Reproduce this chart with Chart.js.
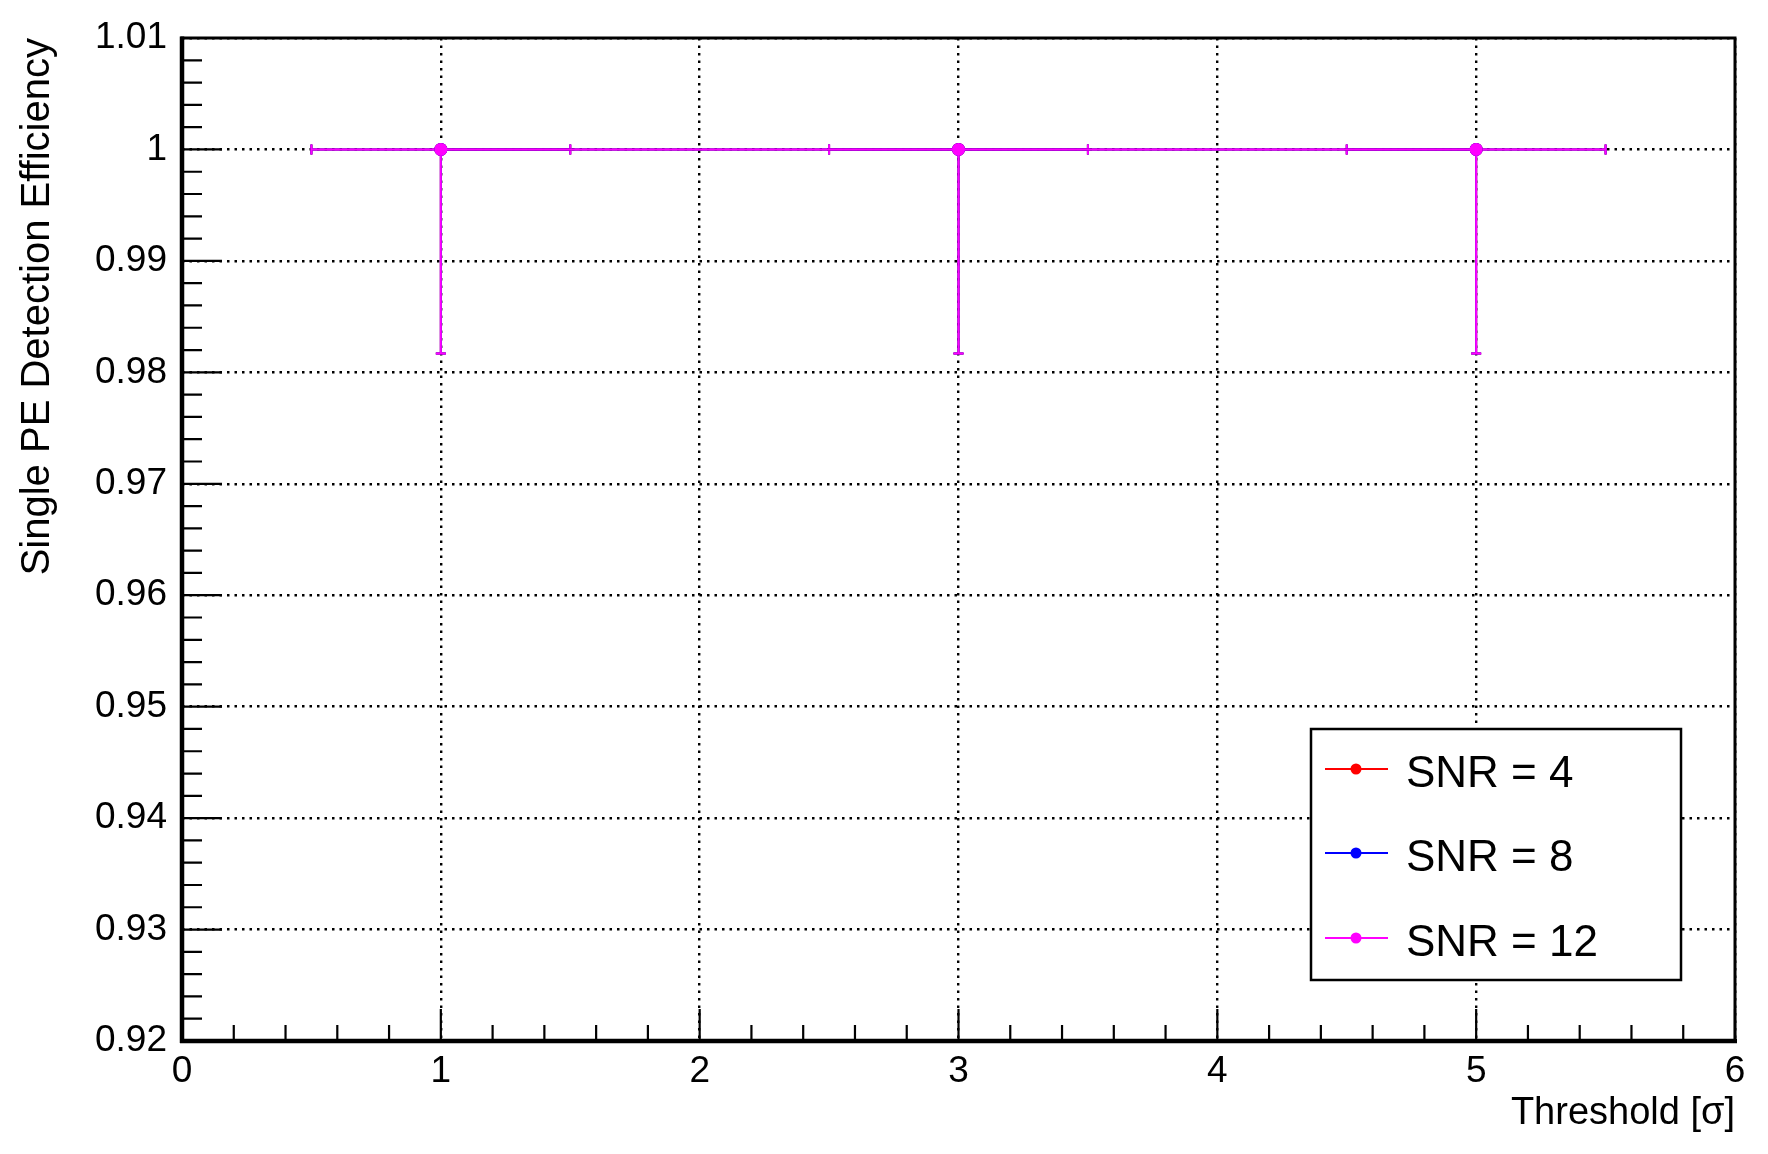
<!DOCTYPE html>
<html>
<head>
<meta charset="utf-8">
<script src="https://cdn.jsdelivr.net/npm/chart.js@4/dist/chart.umd.min.js"></script>
<style>
  html, body { margin: 0; padding: 0; background: #fff; }
  canvas { display: block; }
</style>
</head>
<body>
<canvas id="chart" width="1768" height="1154"></canvas>
<script>
// threshold in units of sigma
const thresholds = [1, 3, 5];
const effSNR4 = [1, 1, 1];
const effSNR8 = [1, 1, 1];
const effSNR12 = [1, 1, 1];
// asymmetric errors (ROOT TGraphAsymmErrors style)
const errX = [0.5, 0.5, 0.5];
const errLow = [0.0183, 0.0183, 0.0183];
const errHigh = [0, 0, 0];

const xTicks = [0, 1, 2, 3, 4, 5, 6];
const yTicks = [0.92, 0.93, 0.94, 0.95, 0.96, 0.97, 0.98, 0.99, 1.0, 1.01];

const FONT = '"Liberation Sans", Arial, Helvetica, sans-serif';

const series = [
    { label: 'SNR = 4', color: '#ff0000', values: effSNR4 },
    { label: 'SNR = 8', color: '#0000ff', values: effSNR8 },
    { label: 'SNR = 12', color: '#ff00ff', values: effSNR12 },
];

const toPoints = (vals) => thresholds.map((x, i) => ({ x, y: vals[i] }));

// error bars, drawn under the markers
const errorBars = {
    id: 'errorBars',
    beforeDatasetsDraw(chart) {
        const { ctx, scales: { x, y } } = chart;
        const cap = 5;
        ctx.save();
        ctx.lineWidth = 2;
        series.forEach((s) => {
            ctx.strokeStyle = s.color;
            s.values.forEach((v, i) => {
                const px = x.getPixelForValue(thresholds[i]);
                const py = y.getPixelForValue(v);
                const x0 = x.getPixelForValue(thresholds[i] - errX[i]);
                const x1 = x.getPixelForValue(thresholds[i] + errX[i]);
                const yLo = y.getPixelForValue(v - errLow[i]);
                const yHi = y.getPixelForValue(v + errHigh[i]);
                ctx.beginPath();
                ctx.moveTo(x0, py); ctx.lineTo(x1, py);
                ctx.moveTo(x0, py - cap); ctx.lineTo(x0, py + cap);
                ctx.moveTo(x1, py - cap); ctx.lineTo(x1, py + cap);
                ctx.moveTo(px, yHi); ctx.lineTo(px, yLo);
                ctx.moveTo(px - cap, yLo); ctx.lineTo(px + cap, yLo);
                if (errHigh[i] > 0) { ctx.moveTo(px - cap, yHi); ctx.lineTo(px + cap, yHi); }
                ctx.stroke();
            });
        });
        ctx.restore();
    },
};

// ROOT-like frame with inward ticks + legend box
const rootFrame = {
    id: 'rootFrame',
    afterDraw(chart) {
        const { ctx, chartArea: a, scales: { x, y } } = chart;
        ctx.save();
        ctx.strokeStyle = '#000';
        ctx.lineCap = 'butt';

        // y ticks (inside)
        ctx.lineWidth = 2.2;
        ctx.beginPath();
        for (let k = 0; k <= 45; k++) {
            const v = 0.92 + k * 0.002;
            const py = y.getPixelForValue(v);
            const len = k % 5 === 0 ? 40 : 20;
            ctx.moveTo(a.left, py); ctx.lineTo(a.left + len, py);
        }
        // x ticks (inside)
        for (let k = 0; k <= 30; k++) {
            const v = k * 0.2;
            const px = x.getPixelForValue(v);
            const len = k % 5 === 0 ? 32 : 16;
            ctx.moveTo(px, a.bottom); ctx.lineTo(px, a.bottom - len);
        }
        ctx.stroke();

        // frame
        ctx.lineWidth = 3;
        ctx.strokeRect(a.left, a.top, a.right - a.left, a.bottom - a.top);
        ctx.lineWidth = 4.5;
        ctx.beginPath();
        ctx.moveTo(a.left, a.top - 1.5); ctx.lineTo(a.left, a.bottom + 2);
        ctx.moveTo(a.left - 2, a.bottom); ctx.lineTo(a.right + 2, a.bottom);
        ctx.stroke();

        // legend
        const box = { l: 1311, t: 729, r: 1681, b: 980 };
        ctx.fillStyle = '#fff';
        ctx.fillRect(box.l, box.t, box.r - box.l, box.b - box.t);
        ctx.lineWidth = 2.5;
        ctx.strokeRect(box.l, box.t, box.r - box.l, box.b - box.t);
        const rows = [769, 853, 938];
        ctx.font = '44px ' + FONT;
        ctx.textBaseline = 'alphabetic';
        series.forEach((s, i) => {
            const ry = rows[i];
            ctx.strokeStyle = s.color;
            ctx.lineWidth = 2;
            ctx.beginPath();
            ctx.moveTo(1325, ry); ctx.lineTo(1388, ry);
            ctx.stroke();
            ctx.fillStyle = s.color;
            ctx.beginPath();
            ctx.arc(1356, ry, 5.5, 0, Math.PI * 2);
            ctx.fill();
            ctx.fillStyle = '#000';
            ctx.fillText(s.label, 1406, ry + 18);
        });
        ctx.restore();
    },
};

const datasets = series.map((s, i) => ({
    label: s.label,
    data: toPoints(s.values),
    showLine: true,
    borderColor: s.color,
    backgroundColor: s.color,
    borderWidth: 2,
    pointRadius: 6.5,
    pointBorderWidth: 0,
    pointBackgroundColor: s.color,
    order: series.length - i, // last series on top
}));

new Chart(document.getElementById('chart').getContext('2d'), {
    type: 'scatter',
    data: { datasets },
    options: {
        responsive: false,
        animation: false,
        layout: { padding: { left: 0, top: 38, right: 33, bottom: 0 } },
        plugins: {
            legend: { display: false },
            tooltip: { enabled: false },
        },
        scales: {
            x: {
                type: 'linear',
                min: 0,
                max: 6,
                afterFit: (s) => { s.height = 113; },
                afterBuildTicks: (s) => { s.ticks = xTicks.map((v) => ({ value: v })); },
                ticks: {
                    color: '#000',
                    font: { family: FONT, size: 37 },
                    padding: 9,
                    maxRotation: 0,
                    callback: (v) => String(v),
                },
                grid: { color: '#000', lineWidth: 2.4, drawTicks: false },
                border: { display: false, dash: [2.5, 5] },
                title: {
                    display: true,
                    text: 'Threshold [σ]',
                    align: 'end',
                    color: '#000',
                    font: { family: FONT, size: 38 },
                    padding: { top: 0, bottom: 18 },
                },
            },
            y: {
                type: 'linear',
                min: 0.92,
                max: 1.01,
                afterFit: (s) => { s.width = 182; },
                afterBuildTicks: (s) => { s.ticks = yTicks.map((v) => ({ value: v })); },
                ticks: {
                    color: '#000',
                    font: { family: FONT, size: 37 },
                    padding: 15,
                    callback: (v) => String(Number(v.toFixed(2))),
                },
                grid: { color: '#000', lineWidth: 2.4, drawTicks: false },
                border: { display: false, dash: [2.5, 5] },
                title: {
                    display: true,
                    text: 'Single PE Detection Efficiency',
                    align: 'end',
                    color: '#000',
                    font: { family: FONT, size: 40 },
                    padding: { top: 14, bottom: 0 },
                },
            },
        },
    },
    plugins: [errorBars, rootFrame],
});
</script>
</body>
</html>
